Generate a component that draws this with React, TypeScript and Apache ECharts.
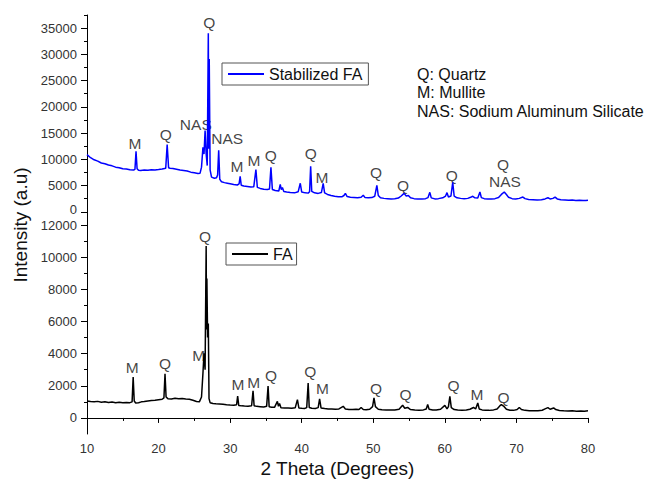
import React, { useEffect, useRef } from "react";
import * as echarts from "echarts";

const FONT = "'Liberation Sans', Arial, sans-serif";

// x axis (2 theta, degrees)
const xMin = 10;
const xMax = 80;
const xStep = 10;

// y tick values
const topMajorTicks = [0, 5000, 10000, 15000, 20000, 25000, 30000, 35000];
const topMinorTicks = [2500, 7500, 12500, 17500, 22500, 27500, 32500, 37500];
const bottomMajorTicks = [0, 2000, 4000, 6000, 8000, 10000, 12000];
const bottomMinorTicks = [1000, 3000, 5000, 7000, 9000, 11000];

// Stabilized FA pattern [2theta, intensity]
const stabilizedFA: [number, number][] = [
  [10.0, 10900], [10.5, 10300], [11, 9900], [11.5, 9650], [12, 9300], [12.5, 9150], [13, 8900], [13.5, 8750],
  [14, 8500], [14.5, 8400], [15, 8200], [15.5, 8150], [16, 8000], [16.5, 7950], [16.7, 8100], [16.85, 11500],
  [17.0, 8200], [17.2, 7900], [17.5, 7850], [18, 7950], [18.5, 7900], [19, 8000], [19.5, 7980], [20, 8050],
  [20.5, 8150], [21.0, 8300], [21.2, 12800], [21.4, 8400], [21.6, 8300], [22, 8250], [22.5, 8100], [23, 7950],
  [23.5, 7850], [24, 7750], [24.5, 7550], [25, 7450], [25.5, 7300], [25.8, 7350], [26.0, 8500], [26.2, 12300],
  [26.35, 11000], [26.5, 15500], [26.65, 11000], [26.8, 8800], [26.95, 34000], [27.02, 12000], [27.08, 29100],
  [27.2, 8000], [27.4, 6600], [27.8, 6400], [28.1, 6500], [28.25, 7000], [28.4, 11700], [28.55, 6200],
  [28.8, 5700], [29.2, 5550], [29.6, 5450], [30, 5350], [30.5, 5200], [31.0, 5100], [31.25, 5300], [31.4, 6750],
  [31.55, 5050], [31.9, 4900], [32.4, 4800], [32.9, 4700], [33.3, 4750], [33.6, 8050], [33.8, 4650],
  [34.2, 4450], [34.7, 4300], [35.2, 4250], [35.5, 4350], [35.7, 8460], [35.9, 4250], [36.3, 4050],
  [36.8, 3950], [37.0, 5230], [37.15, 4200], [37.3, 4600], [37.5, 3850], [37.9, 3750], [38.4, 3650],
  [39.0, 3600], [39.5, 3800], [39.8, 5430], [40.0, 3750], [40.5, 3600], [40.9, 3550], [41.1, 3800],
  [41.25, 8650], [41.4, 3900], [41.8, 3600], [42.3, 3500], [42.75, 3650], [43.0, 5400], [43.2, 3600],
  [43.6, 3300], [44.1, 3100], [44.6, 2950], [45.1, 2850], [45.6, 2850], [45.9, 3100], [46.1, 3500],
  [46.35, 2900], [46.8, 2750], [47.3, 2700], [47.8, 2650], [48.3, 2750], [48.6, 3140], [48.85, 2700],
  [49.3, 2650], [49.8, 2700], [50.2, 2950], [50.5, 5030], [50.7, 3100], [51.0, 2650], [51.5, 2550],
  [52, 2500], [52.5, 2450], [53, 2500], [53.5, 2600], [53.9, 3000], [54.3, 3500], [54.6, 3000], [54.9, 3100],
  [55.2, 2650], [55.7, 2500], [56.2, 2450], [56.8, 2450], [57.3, 2500], [57.65, 2700], [57.9, 3700],
  [58.1, 2650], [58.6, 2450], [59.1, 2500], [59.7, 2650], [60.1, 3000], [60.3, 3640], [60.5, 2800],
  [60.85, 3000], [61.1, 5600], [61.3, 3000], [61.7, 2650], [62.2, 2550], [62.7, 2500], [63.2, 2550],
  [63.6, 2750], [63.9, 2950], [64.2, 2650], [64.6, 2600], [64.9, 3770], [65.1, 2700], [65.5, 2500],
  [66, 2450], [66.5, 2450], [67, 2500], [67.5, 2700], [67.9, 3300], [68.3, 3770], [68.6, 3300],
  [68.9, 2750], [69.4, 2500], [69.9, 2450], [70.4, 2550], [70.9, 2800], [71.2, 2500], [71.7, 2350],
  [72.3, 2300], [72.9, 2250], [73.5, 2300], [74.0, 2450], [74.4, 2670], [74.7, 2450], [75.1, 2550],
  [75.4, 2800], [75.7, 2450], [76.2, 2300], [76.8, 2250], [77.3, 2200], [77.8, 2250], [78.3, 2150],
  [78.8, 2200], [79.3, 2150], [79.7, 2150], [80, 2190],
];

// FA pattern [2theta, intensity]
const fa: [number, number][] = [
  [10, 1050], [10.5, 1020], [11, 1000], [11.5, 1030], [12, 980], [12.5, 1000], [13, 960], [13.5, 990],
  [14, 950], [14.5, 970], [15, 940], [15.5, 960], [16, 950], [16.3, 1000], [16.45, 2540], [16.6, 1050],
  [16.8, 930], [17.2, 950], [17.6, 1000], [18, 1020], [18.5, 1060], [19, 1080], [19.5, 1100], [20, 1130],
  [20.5, 1160], [20.75, 1250], [20.9, 2750], [21.05, 1300], [21.3, 1200], [21.8, 1180], [22.3, 1220],
  [22.8, 1190], [23.3, 1210], [23.8, 1180], [24.3, 1160], [24.8, 1100], [25.3, 1020], [25.7, 1000],
  [26.0, 1300], [26.2, 2780], [26.35, 4020], [26.5, 3000], [26.65, 10700], [26.7, 5500], [26.75, 8670],
  [26.85, 5000], [26.95, 5880], [27.05, 1200], [27.2, 950], [27.6, 900], [28, 880], [28.5, 870], [29, 850],
  [29.5, 820], [30, 800], [30.5, 790], [30.9, 820], [31.05, 1360], [31.2, 780], [31.6, 750], [32, 740],
  [32.5, 730], [33.0, 760], [33.2, 1690], [33.35, 760], [33.7, 720], [34.2, 700], [34.7, 680], [35.1, 720],
  [35.3, 1990], [35.45, 700], [35.8, 670], [36.2, 660], [36.6, 1030], [36.75, 720], [36.9, 900], [37.1, 640],
  [37.6, 620], [38.1, 610], [38.6, 600], [39.1, 640], [39.4, 1140], [39.6, 620], [40, 600], [40.4, 590],
  [40.7, 640], [40.9, 2170], [41.05, 650], [41.4, 600], [41.9, 590], [42.3, 640], [42.5, 1180], [42.7, 620],
  [43.2, 580], [43.7, 560], [44.2, 550], [44.7, 540], [45.2, 560], [45.8, 720], [46.1, 560], [46.6, 530],
  [47.1, 520], [47.6, 540], [48, 520], [48.3, 650], [48.6, 520], [49, 510], [49.5, 540], [49.9, 700],
  [50.1, 1240], [50.3, 700], [50.7, 540], [51.2, 510], [51.8, 500], [52.4, 490], [53, 500], [53.6, 540],
  [54.1, 790], [54.4, 600], [54.8, 650], [55.2, 520], [55.8, 490], [56.4, 480], [57, 500], [57.4, 560],
  [57.6, 830], [57.8, 540], [58.3, 490], [58.8, 500], [59.4, 540], [60.0, 780], [60.3, 560], [60.5, 700],
  [60.7, 1340], [60.9, 640], [61.3, 520], [61.8, 500], [62.4, 480], [63, 490], [63.5, 540], [64.0, 650],
  [64.3, 560], [64.6, 930], [64.8, 560], [65.2, 500], [65.7, 480], [66.2, 470], [66.8, 500], [67.3, 560],
  [67.7, 760], [67.9, 830], [68.2, 740], [68.6, 540], [69.1, 480], [69.6, 470], [70.1, 520], [70.4, 650],
  [70.7, 520], [71.2, 470], [71.8, 450], [72.4, 440], [73, 450], [73.6, 480], [74.0, 560], [74.4, 640],
  [74.7, 540], [75.2, 620], [75.5, 520], [76, 460], [76.6, 440], [77.2, 430], [77.8, 440], [78.4, 420],
  [79, 430], [79.5, 420], [80, 450],
];

// peak labels [2theta, intensity, text]
const topLabels: [number, number, string][] = [
  [16.7, 13100, "M"], [21.0, 14630, "Q"], [25.2, 16540, "NAS"], [27.1, 36030, "Q"], [29.6, 13870, "NAS"],
  [30.96, 8530, "M"], [33.33, 9860, "M"], [35.67, 10630, "Q"], [41.26, 11010, "Q"], [42.83, 6620, "M"],
  [50.38, 7390, "Q"], [54.15, 4910, "Q"], [60.96, 7000, "Q"], [68.12, 9100, "Q"], [68.4, 5860, "NAS"],
];
const bottomLabels: [number, number, string][] = [
  [16.3, 3140, "M"], [20.9, 3370, "Q"], [25.6, 3890, "M"], [26.5, 11280, "Q"], [31.1, 2070, "M"],
  [33.3, 2230, "M"], [35.7, 2650, "Q"], [41.2, 2900, "Q"], [42.9, 1820, "M"], [50.4, 1860, "Q"],
  [54.5, 1450, "Q"], [61.2, 2010, "Q"], [64.5, 1450, "M"], [68.2, 1240, "Q"],
];

const keyLines = ["Q: Quartz", "M: Mullite", "NAS: Sodium Aluminum Silicate"];

export default function App() {
  const ref = useRef<HTMLDivElement>(null);
  useEffect(() => {
    const chart = echarts.init(ref.current!, null, { renderer: "svg" });
    const tickLabel = { fontFamily: FONT, fontSize: 13, color: "#333" };
    const axisLine = { show: true, lineStyle: { color: "#000", width: 1 } };
    const labelSeries = (data: [number, number, string][], xi: number, yi: number) => ({
      type: "scatter",
      xAxisIndex: xi,
      yAxisIndex: yi,
      silent: true,
      symbol: "circle",
      symbolSize: 1,
      itemStyle: { color: "rgba(0,0,0,0)" },
      data: data.map((d) => ({ value: [d[0], d[1]], name: d[2] })),
      label: {
        show: true,
        position: "inside",
        formatter: "{b}",
        fontFamily: FONT,
        fontSize: 15.5,
        color: "#111",
      },
    });
    const legendBase = {
      borderColor: "#555",
      borderWidth: 1,
      icon: "rect",
      itemWidth: 36,
      itemHeight: 2,
      textStyle: { fontFamily: FONT, fontSize: 16, color: "#111", padding: [2, 0, 0, 0] },
    };
    chart.setOption({
      animation: false,
      backgroundColor: "#fff",
      grid: [
        { left: 87, top: 15, width: 501, height: 202 },
        { left: 87, top: 217, width: 501, height: 218 },
      ],
      xAxis: [
        { gridIndex: 0, type: "value", min: xMin, max: xMax, show: false },
        {
          gridIndex: 1,
          type: "value",
          min: xMin,
          max: xMax,
          interval: xStep,
          axisLine,
          axisTick: { show: true, length: 5, lineStyle: { color: "#000" } },
          minorTick: { show: true, splitNumber: 2, length: 3, lineStyle: { color: "#000" } },
          splitLine: { show: false },
          axisLabel: { ...tickLabel, margin: 8 },
          name: "2 Theta (Degrees)",
          nameLocation: "middle",
          nameGap: 25,
          nameTextStyle: { fontFamily: FONT, fontSize: 19, color: "#111" },
        },
      ],
      yAxis: [
        {
          gridIndex: 0,
          type: "value",
          position: "left",
          min: -1000,
          max: 37500,
          axisLine,
          splitLine: { show: false },
          axisTick: { show: true, length: 6, customValues: topMajorTicks, lineStyle: { color: "#000" } },
          axisLabel: {
            ...tickLabel,
            margin: 10,
            customValues: topMajorTicks,
            formatter: (v: number) => (v === 0 ? "{z|0}" : String(v)),
            rich: { z: { fontFamily: FONT, fontSize: 13, color: "#333", padding: [0, 0, 5, 0] } },
          },
        },
        {
          gridIndex: 0,
          type: "value",
          position: "left",
          min: -1000,
          max: 37500,
          axisLine: { show: false },
          splitLine: { show: false },
          axisTick: { show: true, length: 3, customValues: topMinorTicks, lineStyle: { color: "#000" } },
          axisLabel: { show: false },
        },
        {
          gridIndex: 1,
          type: "value",
          position: "left",
          min: -1000,
          max: 12500,
          axisLine,
          splitLine: { show: false },
          axisTick: { show: true, length: 6, customValues: bottomMajorTicks, lineStyle: { color: "#000" } },
          axisLabel: { ...tickLabel, margin: 10, customValues: bottomMajorTicks, formatter: (v: number) => String(v) },
        },
        {
          gridIndex: 1,
          type: "value",
          position: "left",
          min: -1000,
          max: 12500,
          axisLine: { show: false },
          splitLine: { show: false },
          axisTick: { show: true, length: 3, customValues: bottomMinorTicks, lineStyle: { color: "#000" } },
          axisLabel: { show: false },
        },
      ],
      legend: [
        {
          ...legendBase,
          data: ["Stabilized FA"],
          left: 222,
          top: 63,
          padding: [3, 6, 3, 6],
        },
        {
          ...legendBase,
          data: ["FA"],
          left: 226,
          top: 243,
          padding: [3, 4, 3, 6],
        },
      ],
      series: [
        {
          type: "line",
          name: "Stabilized FA",
          xAxisIndex: 0,
          yAxisIndex: 0,
          data: stabilizedFA,
          symbol: "none",
          color: "#0000ff",
          lineStyle: { color: "#0000ff", width: 1.5 },
        },
        {
          type: "line",
          name: "FA",
          xAxisIndex: 1,
          yAxisIndex: 2,
          data: fa,
          symbol: "none",
          color: "#000",
          lineStyle: { color: "#000", width: 1.5 },
        },
        labelSeries(topLabels, 0, 0),
        labelSeries(bottomLabels, 1, 2),
      ],
      graphic: [
        {
          type: "text",
          left: 417,
          top: 65,
          style: {
            text: keyLines.join("\n"),
            font: `16px ${FONT}`,
            fill: "#111",
            lineHeight: 18.5,
          },
        },
        {
          type: "text",
          x: 20,
          y: 225,
          rotation: Math.PI / 2,
          style: {
            text: "Intensity (a.u)",
            font: `19px ${FONT}`,
            fill: "#111",
            align: "center",
            verticalAlign: "middle",
          },
        },
      ],
    });
    return () => chart.dispose();
  }, []);
  return (
    <div
      ref={ref}
      style={{ position: "fixed", left: 0, top: 0, width: 649, height: 479, background: "#fff" }}
    />
  );
}
